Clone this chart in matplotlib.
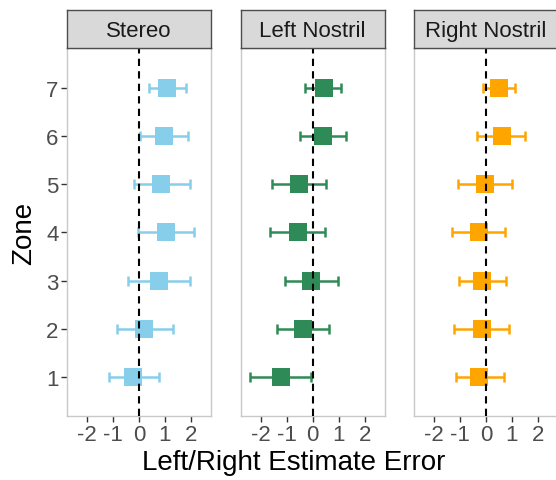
import numpy as np
import matplotlib.pyplot as plt

plt.rcParams['font.family'] = ['Liberation Sans', 'DejaVu Sans']

zones = [1, 2, 3, 4, 5, 6, 7]
panels = ['Stereo', 'Left Nostril', 'Right Nostril']
colors = ['#87CEEB', '#2E8B57', '#FFA500']

stereo_mean = [-0.22, 0.21, 0.76, 1.05, 0.86, 0.97, 1.09]
stereo_lo = [-1.17, -0.86, -0.42, -0.05, -0.19, 0.04, 0.40]
stereo_hi = [0.77, 1.32, 1.95, 2.10, 1.95, 1.88, 1.79]

left_mean = [-1.21, -0.38, -0.08, -0.55, -0.51, 0.41, 0.43]
left_lo = [-2.40, -1.38, -1.08, -1.63, -1.58, -0.50, -0.28]
left_hi = [-0.08, 0.63, 0.97, 0.47, 0.52, 1.29, 1.09]

right_mean = [-0.26, -0.14, -0.17, -0.28, -0.04, 0.60, 0.50]
right_lo = [-1.15, -1.22, -1.05, -1.29, -1.06, -0.35, -0.10]
right_hi = [0.70, 0.90, 0.76, 0.74, 1.00, 1.51, 1.10]

means = [stereo_mean, left_mean, right_mean]
lows = [stereo_lo, left_lo, right_lo]
highs = [stereo_hi, left_hi, right_hi]

W, H = 556, 481
fig = plt.figure(figsize=(W / 100, H / 100), dpi=100)

# panel geometry in pixels (right panel runs past the image edge)
lefts = [67, 240.7, 414]
pw = 144
top, bottom, strip_top = 49, 417, 11

for i, name in enumerate(panels):
    ax = fig.add_axes([lefts[i] / W, (H - bottom) / H, pw / W, (bottom - top) / H])
    m = np.array(means[i])
    lo = m - np.array(lows[i])
    hi = np.array(highs[i]) - m
    ax.errorbar(m, zones, xerr=[lo, hi], fmt='none', ecolor=colors[i],
                elinewidth=1.8, capsize=3.3, capthick=1.8, zorder=2)
    ax.plot(m, zones, 's', color=colors[i], markersize=13, markeredgewidth=0, zorder=3)
    ax.axvline(0, color='black', linestyle=(0, (3.5, 2.5)), linewidth=1.5, zorder=4)
    ax.set_xlim(-2.77, 2.77)
    ax.set_ylim(0.18, 7.84)
    ax.set_xticks([-2, -1, 0, 1, 2])
    ax.set_xticklabels(['-2', '-1', '0', '1', '2'])
    ax.set_yticks(zones)
    ax.tick_params(colors='#333333', labelcolor='#4D4D4D', labelsize=16,
                   length=4, width=1, pad=2)
    for s in ax.spines.values():
        s.set_color('#C8C8C8')
        s.set_linewidth(1)
    if i > 0:
        ax.tick_params(axis='y', left=False, labelleft=False)

    sax = fig.add_axes([lefts[i] / W, (H - top) / H, pw / W, (top - strip_top) / H])
    sax.set_facecolor('#D9D9D9')
    sax.set_xticks([])
    sax.set_yticks([])
    for s in sax.spines.values():
        s.set_color('#4D4D4D')
        s.set_linewidth(1)
    sax.text(0.5, 0.47, name, ha='center', va='center', fontsize=16, color='#1A1A1A')

fig.text(294 / W, 5 / H, 'Left/Right Estimate Error', ha='center', va='bottom', fontsize=20)
fig.text(24 / W, (H - 233) / H, 'Zone', rotation=90, ha='center', va='center', fontsize=20)

fig.savefig('out.png', dpi=100)
